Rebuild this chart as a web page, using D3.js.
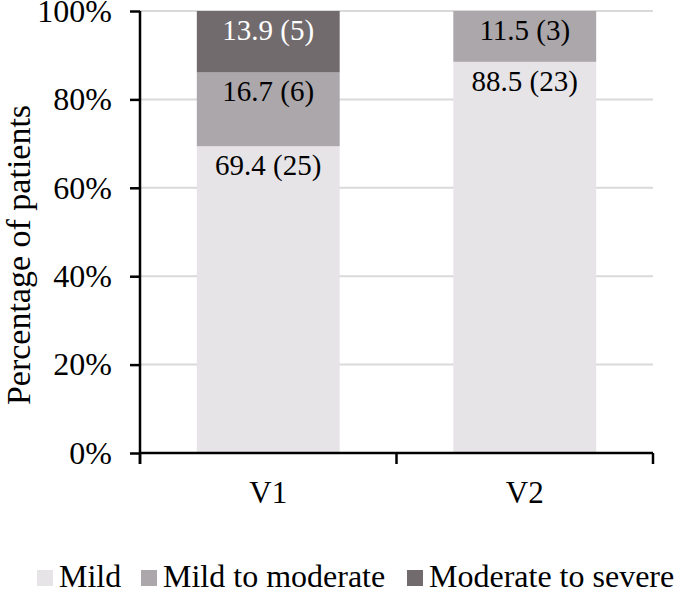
<!DOCTYPE html>
<html><head><meta charset="utf-8">
<script src="https://cdn.jsdelivr.net/npm/d3@7"></script>
<style>body{margin:0;background:#fff}svg{display:block}text{font-family:"Liberation Serif","Times New Roman",Times,serif}</style>
</head><body><div id="chart"></div>
<script>
const categories = ["V1", "V2"];
const seriesNames = ["Mild", "Mild to moderate", "Moderate to severe"];
const mild = [69.4, 88.5];
const mildToModerate = [16.7, 11.5];
const moderateToSevere = [13.9, 0];
const mildN = [25, 23];
const mildToModerateN = [6, 3];
const moderateToSevereN = [5, 0];
const yTicks = [0, 20, 40, 60, 80, 100];
const colors = ["#e6e4e7", "#aba7ab", "#716b6e"];
const labelColors = ["#000", "#000", "#fff"];

const W = 677, H = 589;
const m = {left: 140, right: 24, top: 11, bottom: 136};
const svg = d3.select("#chart").append("svg").attr("width", W).attr("height", H);
const x = d3.scaleBand().domain(categories).range([m.left, W - m.right]).paddingInner(0.443).paddingOuter(0.2215);
const y = d3.scaleLinear().domain([0, 100]).range([H - m.bottom, m.top]);

const rows = categories.map((c, i) => ({cat: c, "Mild": mild[i], "Mild to moderate": mildToModerate[i], "Moderate to severe": moderateToSevere[i]}));
const counts = [mildN, mildToModerateN, moderateToSevereN];
const stacked = d3.stack().keys(seriesNames)(rows);

// gridlines
svg.append("g").selectAll("line").data(yTicks.filter(t => t > 0)).join("line")
  .attr("x1", m.left).attr("x2", W - m.right).attr("y1", d => y(d)).attr("y2", d => y(d))
  .attr("stroke", "#d9d9d9").attr("stroke-width", 2);

// bars
stacked.forEach((s, si) => {
  const g = svg.append("g");
  g.selectAll("rect").data(s.filter(d => d[1] - d[0] > 0)).join("rect")
    .attr("x", d => x(d.data.cat)).attr("width", x.bandwidth())
    .attr("y", d => y(d[1])).attr("height", d => y(d[0]) - y(d[1]))
    .attr("fill", colors[si]);
  g.selectAll("text").data(s.map((d, i) => ({d, i})).filter(o => o.d[1] - o.d[0] > 0)).join("text")
    .attr("x", o => x(o.d.data.cat) + x.bandwidth() / 2)
    .attr("y", o => y(o.d[1]) + 29)
    .attr("text-anchor", "middle").attr("font-size", 29).attr("fill", labelColors[si])
    .text(o => `${(o.d[1] - o.d[0]).toFixed(1)} (${counts[si][o.i]})`);
});

// y axis
const yAxis = svg.append("g").attr("transform", `translate(${m.left},0)`)
  .call(d3.axisLeft(y).tickValues(yTicks).tickFormat(d => d + "%").tickSize(10).tickPadding(18).tickSizeOuter(0));
yAxis.attr("font-family", null);
yAxis.select(".domain").attr("stroke", "#000").attr("stroke-width", 2.5).attr("d", `M0,${y(100)}V${y(0) + 11}`);
yAxis.selectAll(".tick line").attr("stroke", "#000").attr("stroke-width", 2.5);
yAxis.selectAll(".tick text").attr("font-size", 32).attr("fill", "#000");

// x axis
const xg = svg.append("g").attr("transform", `translate(0,${y(0)})`);
xg.append("line").attr("x1", m.left).attr("x2", W - m.right).attr("stroke", "#000").attr("stroke-width", 2.5);
const bounds = d3.range(categories.length + 1).map(i => m.left + i * (W - m.left - m.right) / categories.length);
xg.selectAll(".bt").data(bounds).join("line").attr("class", "bt")
  .attr("x1", d => d).attr("x2", d => d).attr("y1", 0).attr("y2", 11).attr("stroke", "#000").attr("stroke-width", 2.5);
xg.selectAll(".cl").data(categories).join("text").attr("class", "cl")
  .attr("x", d => x(d) + x.bandwidth() / 2).attr("y", 50).attr("text-anchor", "middle").attr("font-size", 31).text(d => d);

// y title
svg.append("text").attr("transform", `translate(30,255) rotate(-90)`)
  .attr("text-anchor", "middle").attr("font-size", 34).text("Percentage of patients");

// legend
const legX = [37, 141, 407];
const lg = svg.append("g");
seriesNames.forEach((n, i) => {
  lg.append("rect").attr("x", legX[i]).attr("y", 570).attr("width", 16).attr("height", 16).attr("fill", colors[i]);
  lg.append("text").attr("x", legX[i] + 22).attr("y", 587).attr("font-size", 32).text(n);
});
</script></body></html>
